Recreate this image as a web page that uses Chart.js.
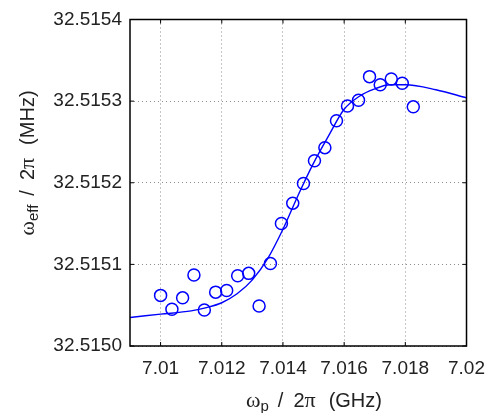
<!DOCTYPE html>
<html>
<head>
<meta charset="utf-8">
<script src="https://cdn.jsdelivr.net/npm/chart.js@4.4.1/dist/chart.umd.min.js"></script>
<style>
    html, body { margin: 0; padding: 0; background: #fff; }
    #wrap { width: 496px; height: 413px; position: relative; }
</style>
</head>
<body>
<div id="wrap"><canvas id="fitChart"></canvas></div>
<script>
// measured points
const xObs = [7.01000, 7.01037, 7.01072, 7.01109, 7.01143, 7.01180, 7.01216, 7.01252, 7.01288, 7.01322, 7.01359, 7.01395,
              7.01432, 7.01467, 7.01503, 7.01537, 7.01575, 7.01611, 7.01647, 7.01683, 7.01718, 7.01754, 7.01790, 7.01826];
const yObs = [32.515062, 32.515045, 32.515059, 32.515087, 32.515044, 32.515066, 32.515068, 32.515086, 32.515089, 32.515049, 32.515101, 32.515150,
              32.515175, 32.515199, 32.515227, 32.515243, 32.515276, 32.515294, 32.515301, 32.515330, 32.515320, 32.515327, 32.515322, 32.515293];

// fitted curve
const xFit = [7.009, 7.010, 7.011, 7.0115, 7.012, 7.0125, 7.013, 7.0135, 7.014, 7.0145, 7.015, 7.0155, 7.016, 7.0165, 7.017, 7.0175, 7.018, 7.019, 7.020];
const yFit = [32.515035, 32.515039, 32.515043, 32.515047, 32.515053, 32.515064, 32.515081, 32.515107, 32.515143, 32.515185, 32.515224, 32.515258,
              32.515290, 32.515306, 32.515315, 32.515320, 32.515320, 32.515314, 32.515304];

const xTicks = [7.010, 7.012, 7.014, 7.016, 7.018, 7.020];
const xTickLabels = ['7.01', '7.012', '7.014', '7.016', '7.018', '7.02'];
const yTicks = [32.5150, 32.5151, 32.5152, 32.5153, 32.5154];
const yTickLabels = ['32.5150', '32.5151', '32.5152', '32.5153', '32.5154'];

const SANS = '"Liberation Sans", Arial, sans-serif';
const SERIF = '"Liberation Serif", "Times New Roman", serif';

// draws text made of pieces with their own font / baseline shift
function drawPieces(ctx, pieces) {
    let w = 0;
    pieces.forEach(p => { ctx.font = p.font; p.w = ctx.measureText(p.text).width + (p.gap || 0); w += p.w; });
    let x = -w / 2;
    pieces.forEach(p => {
        ctx.font = p.font;
        ctx.fillText(p.text, x, p.dy || 0);
        x += p.w;
    });
}

function titlePieces(sub, unit) {
    return [
        { text: 'ω', font: '22px ' + SERIF },
        { text: sub, font: '15px ' + SANS, dy: 4, gap: 9 },
        { text: '/', font: '20px ' + SANS, gap: 10 },
        { text: '2', font: '20px ' + SANS },
        { text: 'π', font: '22px ' + SERIF, gap: 13 },
        { text: unit, font: '20px ' + SANS }
    ];
}

const framePlugin = {
    id: 'frame',
    afterDraw(chart) {
        const ctx = chart.ctx;
        const a = chart.chartArea;
        const xs = chart.scales.x, ys = chart.scales.y;
        ctx.save();
        ctx.strokeStyle = '#000';
        ctx.lineWidth = 1.5;
        ctx.strokeRect(a.left, a.top, a.right - a.left, a.bottom - a.top);
        ctx.lineWidth = 1;
        ctx.beginPath();
        xTicks.forEach(v => {
            const px = xs.getPixelForValue(v);
            ctx.moveTo(px, a.bottom); ctx.lineTo(px, a.bottom - 4);
            ctx.moveTo(px, a.top); ctx.lineTo(px, a.top + 4);
        });
        yTicks.forEach(v => {
            const py = ys.getPixelForValue(v);
            ctx.moveTo(a.left, py); ctx.lineTo(a.left + 4, py);
            ctx.moveTo(a.right, py); ctx.lineTo(a.right - 4, py);
        });
        ctx.stroke();

        // axis titles
        ctx.fillStyle = '#222';
        ctx.textAlign = 'left';
        ctx.textBaseline = 'alphabetic';
        ctx.save();
        ctx.translate(314, 407);
        drawPieces(ctx, titlePieces('p', '(GHz)'));
        ctx.restore();
        ctx.save();
        ctx.translate(34, 163);
        ctx.rotate(-Math.PI / 2);
        drawPieces(ctx, titlePieces('eff', '(MHz)'));
        ctx.restore();
        ctx.restore();
    }
};

const ctx = document.getElementById('fitChart').getContext('2d');
new Chart(ctx, {
    type: 'scatter',
    data: {
        datasets: [{
            type: 'line',
            data: xFit.map((x, i) => ({ x: x, y: yFit[i] })),
            borderColor: '#0000ff',
            borderWidth: 1.4,
            pointRadius: 0,
            cubicInterpolationMode: 'monotone',
            fill: false
        }, {
            data: xObs.map((x, i) => ({ x: x, y: yObs[i] })),
            borderColor: '#0000ff',
            backgroundColor: 'rgba(0,0,0,0)',
            borderWidth: 1.5,
            pointRadius: 6,
            pointHoverRadius: 6
        }]
    },
    options: {
        responsive: true,
        maintainAspectRatio: false,
        animation: false,
        layout: { padding: { left: 0, top: 19.5, right: 18.3, bottom: 0 } },
        plugins: { legend: { display: false }, tooltip: { enabled: false } },
        scales: {
            x: {
                type: 'linear', min: 7.009, max: 7.020,
                afterBuildTicks: s => { s.ticks = xTicks.map(v => ({ value: v })); },
                afterFit: s => { s.height = 67; },
                grid: { color: '#8c8c8c', lineWidth: 1, drawTicks: false },
                border: { display: false, dash: [1, 3] },
                ticks: {
                    color: '#222', padding: 11, maxRotation: 0,
                    font: { family: SANS, size: 19 },
                    callback: (v, i) => xTickLabels[i]
                }
            },
            y: {
                type: 'linear', min: 32.5150, max: 32.5154,
                afterBuildTicks: s => { s.ticks = yTicks.map(v => ({ value: v })); },
                afterFit: s => { s.width = 130; },
                grid: { color: '#8c8c8c', lineWidth: 1, drawTicks: false },
                border: { display: false, dash: [1, 3] },
                ticks: {
                    color: '#222', padding: 8,
                    font: { family: SANS, size: 19 },
                    callback: (v, i) => yTickLabels[i]
                }
            }
        }
    },
    plugins: [framePlugin]
});
</script>
</body>
</html>
